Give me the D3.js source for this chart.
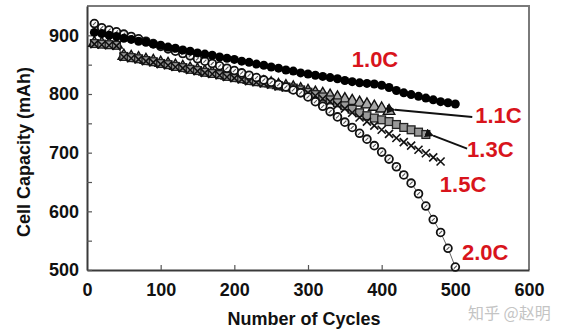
<!DOCTYPE html>
<meta charset="utf-8">
<script src="https://d3js.org/d3.v7.min.js"></script>
<style>
  body { margin: 0; background: #fff; }
  text { font-family: "Liberation Sans", Arial, sans-serif; font-weight: bold; }
</style>
<body>
<svg width="574" height="335"></svg>
<script>
// cycle numbers where capacity was sampled
var cycles = [10, 20, 30, 40, 50, 60, 70, 80, 90, 100,
              110, 120, 130, 140, 150, 160, 170, 180, 190, 200,
              210, 220, 230, 240, 250, 260, 270, 280, 290, 300,
              310, 320, 330, 340, 350, 360, 370, 380, 390, 400,
              410, 420, 430, 440, 450, 460, 470, 480, 490, 500];

// capacity (mAh) per discharge rate
var cap10 = [905, 903, 900, 898, 895, 893, 890, 888, 885, 883,
             880, 878, 875, 873, 870, 868, 866, 863, 861, 859,
             856, 854, 851, 849, 846, 844, 841, 839, 836, 834,
             832, 830, 828, 826, 823, 821, 819, 818, 817, 815,
             811, 806, 802, 799, 796, 793, 790, 787, 785, 783];
var cap11 = [887, 886, 885, 884, 865, 863, 861, 858, 856, 853,
             851, 848, 846, 843, 841, 838, 836, 834, 831, 829,
             827, 824, 822, 820, 818, 815, 813, 811, 808, 805,
             802, 800, 797, 794, 791, 788, 785, 782, 778, 775,
             771];
var cap13 = [886, 885, 884, 883, 864, 862, 860, 857, 855, 852,
             850, 847, 845, 842, 840, 837, 835, 833, 830, 828,
             826, 823, 821, 819, 817, 814, 812, 810, 807, 803,
             799, 795, 790, 785, 780, 774, 768, 763, 759, 756,
             753, 748, 743, 739, 735, 731];
var cap15 = [885, 884, 883, 882, 863, 861, 859, 856, 854, 851,
             849, 846, 844, 841, 839, 836, 834, 832, 829, 827,
             825, 822, 820, 818, 816, 813, 811, 809, 806, 802,
             797, 792, 787, 781, 775, 768, 760, 753, 746, 739,
             732, 725, 718, 712, 705, 699, 692, 685];
var cap20 = [920, 913, 909, 906, 902, 898, 894, 890, 886, 881,
             877, 873, 869, 865, 860, 856, 852, 848, 844, 840,
             836, 832, 828, 824, 820, 816, 812, 807, 802, 795,
             787, 779, 770, 761, 752, 743, 733, 723, 712, 701,
             689, 676, 662, 648, 630, 609, 586, 564, 537, 505];

var rateNames = ["1.1C", "1.3C", "1.5C", "2.0C", "1.0C"];
var rateValues = [cap11, cap13, cap15, cap20, cap10];
var rateMarks = ["triangle", "square", "cross", "ring", "dot"];

// rate labels: [cycle, mAh, anchor]
var labelSpots = {"1.0C": [391, 846, "middle"], "1.1C": [527, 751, "start"],
                  "1.3C": [516, 693, "start"], "1.5C": [479, 633, "start"],
                  "2.0C": [509, 517, "start"]};
// arrows from label to curve end: [fromCycle, fromMAh, toCycle, toMAh]
var arrows = [[523, 761, 418, 773], [516, 707, 470, 729]];

var xTicks = [0, 100, 200, 300, 400, 500, 600];
var yTicks = [500, 550, 600, 650, 700, 750, 800, 850, 900];

var svg = d3.select("svg"),
    margin = {top: 6, right: 45, bottom: 65, left: 87},
    width = +svg.attr("width") - margin.left - margin.right,
    height = +svg.attr("height") - margin.top - margin.bottom,
    g = svg.append("g").attr("transform", "translate(" + margin.left + "," + margin.top + ")");

var x = d3.scaleLinear().domain([0, 600]).range([0, width]);
var y = d3.scaleLinear().domain([500, 950]).range([height, 0]);

// frame: light top/right border
g.append("path")
    .attr("d", "M0,0H" + width + "V" + height)
    .attr("fill", "none")
    .attr("stroke", "#7a7a7a")
    .attr("stroke-width", 2);

var xAxis = g.append("g")
    .attr("transform", "translate(0," + height + ")")
    .call(d3.axisBottom(x).tickValues(xTicks).tickSizeInner(-5).tickSizeOuter(0).tickPadding(13));
var yAxis = g.append("g")
    .call(d3.axisLeft(y).tickValues(yTicks).tickSizeInner(-5).tickSizeOuter(0).tickPadding(8)
      .tickFormat(function(d) { return d % 100 === 0 ? d : ""; }));

[xAxis, yAxis].forEach(function(a) {
  a.select(".domain").attr("stroke", "#3a3a3a").attr("stroke-width", 2);
  a.selectAll(".tick line").attr("stroke", "#555").attr("stroke-width", 1.2);
  a.selectAll(".tick text").attr("fill", "#111").style("font-size", "18px");
});
xAxis.selectAll(".tick line").filter(function(d) { return d === 0 || d === 600; }).remove();

g.append("text")
    .attr("x", x(300) - 4)
    .attr("y", height + 55)
    .attr("text-anchor", "middle")
    .style("font-size", "18px")
    .attr("fill", "#111")
    .text("Number of Cycles");

g.append("text")
    .attr("transform", "rotate(-90)")
    .attr("x", -146)
    .attr("y", -57)
    .attr("text-anchor", "middle")
    .style("font-size", "18px")
    .attr("fill", "#111")
    .text("Cell Capacity (mAh)");

var line = d3.line()
    .x(function(d) { return x(d[0]); })
    .y(function(d) { return y(d[1]); });

var series = rateNames.map(function(name, i) {
  return {name: name, mark: rateMarks[i],
          pts: rateValues[i].map(function(v, j) { return [cycles[j], v]; })};
});

g.selectAll(".curve")
  .data(series)
  .enter().append("path")
    .attr("class", "curve")
    .attr("d", function(d) { return line(d.pts); })
    .attr("fill", "none")
    .attr("stroke", "#666")
    .attr("stroke-width", 1);

function drawMark(sel, mark) {
  if (mark === "dot") {
    sel.append("circle").attr("r", 4.5).attr("fill", "#000");
  } else if (mark === "ring") {
    sel.append("circle").attr("r", 3.9).attr("fill", "#fff").attr("stroke", "#111").attr("stroke-width", 1.8);
    sel.append("path").attr("d", "M-1.5,1.5L1.5,-1.5").attr("stroke", "#555").attr("stroke-width", 1.1);
  } else if (mark === "triangle") {
    sel.append("path").attr("d", d3.symbol(d3.symbolTriangle, 58))
      .attr("fill", "#a8a8a8").attr("stroke", "#111").attr("stroke-width", 1.4);
  } else if (mark === "square") {
    sel.append("rect").attr("x", -3.9).attr("y", -3.9).attr("width", 7.8).attr("height", 7.8)
      .attr("fill", "#999").attr("stroke", "#222").attr("stroke-width", 1.3);
  } else if (mark === "cross") {
    sel.append("path").attr("d", "M-4,-4L4,4M-4,4L4,-4")
      .attr("stroke", "#111").attr("stroke-width", 1.6);
  }
}

series.forEach(function(s) {
  g.append("g").selectAll("g")
    .data(s.pts)
    .enter().append("g")
      .attr("transform", function(d) { return "translate(" + x(d[0]) + "," + y(d[1]) + ")"; })
      .call(drawMark, s.mark);
});

// arrows pointing at the 1.1C and 1.3C curves
svg.append("defs").append("marker")
    .attr("id", "head")
    .attr("viewBox", "0 0 10 10")
    .attr("refX", 1).attr("refY", 5)
    .attr("markerWidth", 4.5).attr("markerHeight", 4.5)
    .attr("orient", "auto")
  .append("path")
    .attr("d", "M10,0L0,5L10,10z")
    .attr("fill", "#111");

g.selectAll(".arrow")
  .data(arrows)
  .enter().append("line")
    .attr("class", "arrow")
    .attr("x1", function(d) { return x(d[0]); })
    .attr("y1", function(d) { return y(d[1]); })
    .attr("x2", function(d) { return x(d[2]); })
    .attr("y2", function(d) { return y(d[3]); })
    .attr("stroke", "#111")
    .attr("stroke-width", 2)
    .attr("marker-end", "url(#head)");

g.selectAll(".rate")
  .data(rateNames)
  .enter().append("text")
    .attr("class", "rate")
    .attr("x", function(d) { return x(labelSpots[d][0]); })
    .attr("y", function(d) { return y(labelSpots[d][1]); })
    .attr("text-anchor", function(d) { return labelSpots[d][2]; })
    .attr("fill", "#d8141c")
    .style("font-size", "22px")
    .text(function(d) { return d; });

svg.append("text")
    .attr("x", 468)
    .attr("y", 319)
    .attr("fill", "#c4c4c4")
    .style("font-family", "'Noto Sans CJK SC', sans-serif")
    .style("font-weight", "normal")
    .style("font-size", "16px")
    .text("知乎 @赵明");
</script>
</body>
